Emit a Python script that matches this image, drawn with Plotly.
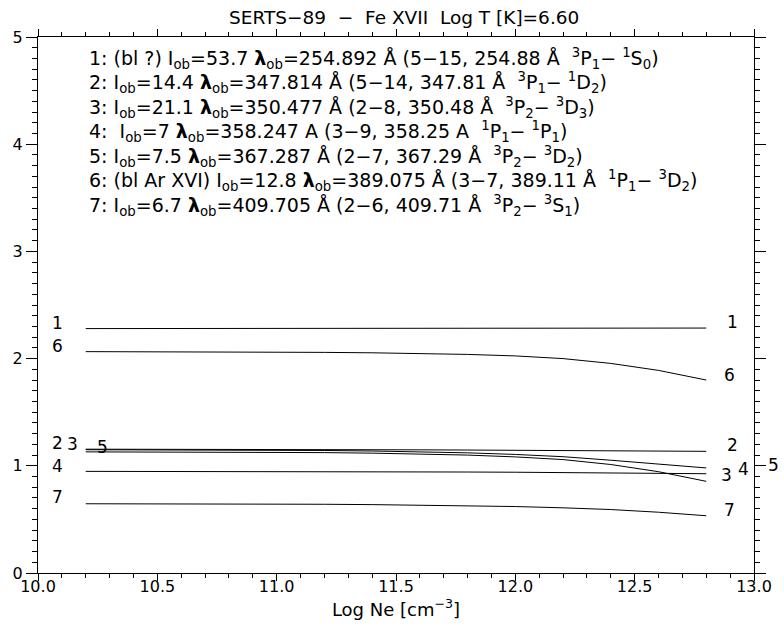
import plotly.graph_objects as go

# ---- data ----
log_ne = [10.2, 10.4, 10.6, 10.8, 11.0, 11.2, 11.4, 11.6, 11.8, 12.0, 12.2, 12.4, 12.6, 12.8]

line_ids = ["1", "2", "3", "4", "5", "6", "7"]
series = {
    "1": [2.280, 2.280, 2.280, 2.280, 2.280, 2.281, 2.281, 2.281, 2.282, 2.282, 2.283, 2.283, 2.284, 2.285],
    "2": [1.155, 1.155, 1.154, 1.154, 1.153, 1.152, 1.151, 1.149, 1.147, 1.145, 1.142, 1.139, 1.137, 1.135],
    "3": [1.130, 1.130, 1.129, 1.128, 1.126, 1.123, 1.118, 1.111, 1.100, 1.083, 1.058, 1.012, 0.945, 0.855],
    "4": [0.948, 0.948, 0.948, 0.947, 0.947, 0.946, 0.945, 0.944, 0.942, 0.940, 0.937, 0.934, 0.930, 0.926],
    "5": [1.150, 1.150, 1.149, 1.148, 1.146, 1.143, 1.138, 1.131, 1.121, 1.106, 1.085, 1.052, 1.016, 0.980],
    "6": [2.065, 2.065, 2.064, 2.063, 2.061, 2.058, 2.054, 2.048, 2.039, 2.025, 2.000, 1.955, 1.890, 1.800],
    "7": [0.646, 0.646, 0.645, 0.644, 0.643, 0.641, 0.638, 0.634, 0.628, 0.620, 0.608, 0.592, 0.567, 0.534],
}

legend_lines = [
    "1: (bl ?) I<sub>ob</sub>=53.7 <b>λ</b><sub>ob</sub>=254.892 Å (5−15, 254.88 Å  <sup>3</sup>P<sub>1</sub>− <sup>1</sup>S<sub>0</sub>)",
    "2: I<sub>ob</sub>=14.4 <b>λ</b><sub>ob</sub>=347.814 Å (5−14, 347.81 Å  <sup>3</sup>P<sub>1</sub>− <sup>1</sup>D<sub>2</sub>)",
    "3: I<sub>ob</sub>=21.1 <b>λ</b><sub>ob</sub>=350.477 Å (2−8, 350.48 Å  <sup>3</sup>P<sub>2</sub>− <sup>3</sup>D<sub>3</sub>)",
    "4:  I<sub>ob</sub>=7 <b>λ</b><sub>ob</sub>=358.247 A (3−9, 358.25 A  <sup>1</sup>P<sub>1</sub>− <sup>1</sup>P<sub>1</sub>)",
    "5: I<sub>ob</sub>=7.5 <b>λ</b><sub>ob</sub>=367.287 Å (2−7, 367.29 Å  <sup>3</sup>P<sub>2</sub>− <sup>3</sup>D<sub>2</sub>)",
    "6: (bl Ar XVI) I<sub>ob</sub>=12.8 <b>λ</b><sub>ob</sub>=389.075 Å (3−7, 389.11 Å  <sup>1</sup>P<sub>1</sub>− <sup>3</sup>D<sub>2</sub>)",
    "7: I<sub>ob</sub>=6.7 <b>λ</b><sub>ob</sub>=409.705 Å (2−6, 409.71 Å  <sup>3</sup>P<sub>2</sub>− <sup>3</sup>S<sub>1</sub>)",
]

title_text = "SERTS−89  −  Fe XVII  Log T [K]=6.60"
x_title = "Log Ne [cm<sup>−3</sup>]"

# label placement styles (pixel shifts)
left_shift = {"1": (0, 6), "6": (0, 6), "2": (0, 6), "3": (15, 8), "5": (45, 3), "4": (0, 5), "7": (0, 7)}
right_shift = {"1": (0, 6), "6": (-3, 5), "2": (0, 6), "3": (-6, 6), "4": (11, 5), "5": (41, 3), "7": (-3, 6)}

FONT = "DejaVu Sans, Liberation Sans"

fig = go.Figure()
for lid in line_ids:
    fig.add_trace(go.Scatter(x=log_ne, y=series[lid], mode="lines",
                             line=dict(color="black", width=1), showlegend=False,
                             hoverinfo="skip"))

ann = []
for lid in line_ids:
    ys = series[lid]
    dx, dy = left_shift[lid]
    ann.append(dict(x=log_ne[0] - 0.12, y=ys[0], text=lid, showarrow=False,
                    xanchor="center", yanchor="middle", xshift=dx, yshift=dy,
                    font=dict(size=17, color="black", family=FONT)))
    dx, dy = right_shift[lid]
    ann.append(dict(x=log_ne[-1] + 0.11, y=ys[-1], text=lid, showarrow=False,
                    xanchor="center", yanchor="middle", xshift=dx, yshift=dy,
                    font=dict(size=17, color="black", family=FONT)))

for i, t in enumerate(legend_lines):
    ann.append(dict(xref="paper", yref="paper", x=0.069, y=1, text=t, showarrow=False,
                    xanchor="left", yanchor="middle", yshift=-21 - 24.5 * i,
                    font=dict(size=19, color="black", family=FONT)))

ann.append(dict(xref="paper", yref="paper", x=0.5, y=1, text=title_text, showarrow=False,
                xanchor="center", yanchor="middle", yshift=20, xshift=8,
                font=dict(size=18.5, color="black", family=FONT)))

fig.update_layout(
    width=784, height=638,
    margin=dict(l=38, r=21, t=37, b=65),
    paper_bgcolor="white", plot_bgcolor="white",
    annotations=ann,
    font=dict(family=FONT, color="black", size=16),
)
fig.update_xaxes(range=[10, 13], showgrid=False, zeroline=False,
                 showline=True, linecolor="black", linewidth=1, mirror="allticks",
                 ticks="outside", ticklen=7, tickwidth=1, tickcolor="black",
                 tick0=10, dtick=0.5, tickformat=".1f", ticklabelstandoff=-8,
                 tickfont=dict(size=16, family=FONT),
                 minor=dict(ticks="outside", ticklen=4, dtick=0.1, tick0=10, tickcolor="black", showgrid=False),
                 title=dict(text=x_title, font=dict(size=18, family=FONT), standoff=5))
fig.update_yaxes(range=[0, 5], showgrid=False, zeroline=False,
                 showline=True, linecolor="black", linewidth=1, mirror="allticks",
                 ticks="outside", ticklen=11, tickwidth=1, tickcolor="black",
                 tick0=0, dtick=1,
                 tickfont=dict(size=16, family=FONT),
                 minor=dict(ticks="outside", ticklen=5, dtick=0.1, tick0=0, tickcolor="black", showgrid=False))

fig.write_html("out.html")
